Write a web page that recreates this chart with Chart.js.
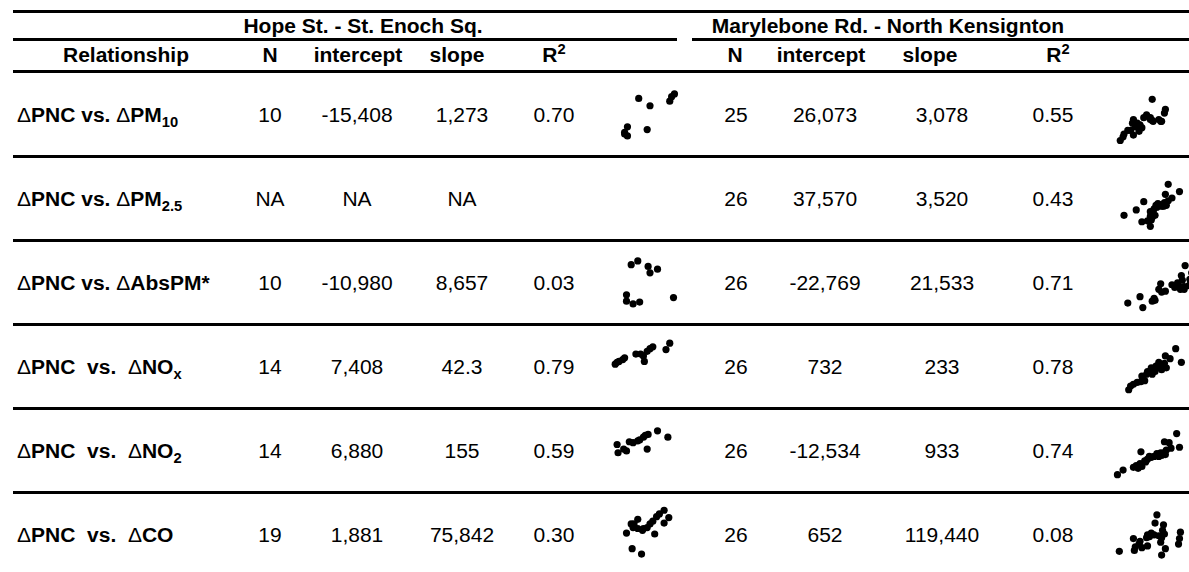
<!DOCTYPE html>
<html>
<head>
<meta charset="utf-8">
<script src="https://cdn.jsdelivr.net/npm/chart.js"></script>
<style>
  html, body { margin: 0; padding: 0; background: #fff; overflow: hidden; }
  body { width: 1189px; height: 572px; position: relative; font-family: "Liberation Sans", Arial, sans-serif; color: #000; }
  .rule { position: absolute; height: 3px; background: #000; }
  .txt { position: absolute; font-size: 20px; white-space: pre; line-height: 1; transform: translate(-50%, -50%) scaleX(1.05); }
  .lbl { position: absolute; font-size: 20px; font-weight: bold; white-space: pre; line-height: 1; transform: translateY(-50%) scaleX(1.05); transform-origin: left center; }
  .b { font-weight: bold; }
  .d { font-weight: normal; }
  .sub { font-size: 14px; position: relative; top: 5px; line-height: 0; }
  .sup { font-size: 14px; position: relative; top: -8px; line-height: 0; }
  canvas { position: absolute; }
</style>
</head>
<body>
<script>
// table rows
const relationships = [
  ["ΔPNC vs. ΔPM", "10"],
  ["ΔPNC vs. ΔPM", "2.5"],
  ["ΔPNC vs. ΔAbsPM*", ""],
  ["ΔPNC  vs.  ΔNO", "x"],
  ["ΔPNC  vs.  ΔNO", "2"],
  ["ΔPNC  vs.  ΔCO", ""]
];
const siteNames = ["Hope St. - St. Enoch Sq.", "Marylebone Rd. - North Kensignton"];
const columns = ["N", "intercept", "slope", "R2"];

const hopeN = ["10", "NA", "10", "14", "14", "19"];
const hopeIntercept = ["-15,408", "NA", "-10,980", "7,408", "6,880", "1,881"];
const hopeSlope = ["1,273", "NA", "8,657", "42.3", "155", "75,842"];
const hopeR2 = ["0.70", "", "0.03", "0.79", "0.59", "0.30"];

const maryN = ["25", "26", "26", "26", "26", "26"];
const maryIntercept = ["26,073", "37,570", "-22,769", "732", "-12,534", "652"];
const marySlope = ["3,078", "3,520", "21,533", "233", "933", "119,440"];
const maryR2 = ["0.55", "0.43", "0.71", "0.78", "0.74", "0.08"];

// mini scatter plots, [x, y] in plot units
const hopePM10 = [[4.8,5.9],[6.0,5.1],[8.1,5.6],[8.3,6.1],[8.6,6.4],[3.6,2.8],[3.3,2.0],[3.6,1.8],[5.7,2.5],[3.3,2.2]];
const hopeAbsPM = [[4.0,6.1],[4.7,6.5],[5.8,5.9],[6.0,5.2],[6.8,5.6],[3.5,2.8],[3.5,2.1],[4.2,1.8],[4.9,2.0],[8.5,2.5]];
const hopeNOx = [[8.1,6.7],[7.7,6.0],[6.3,6.3],[6.0,6.1],[5.7,5.8],[5.0,5.5],[4.5,5.5],[5.3,5.3],[5.4,4.7],[3.3,5.1],[3.1,4.9],[2.7,4.7],[2.3,4.4],[2.5,4.6]];
const hopeNO2 = [[6.8,6.3],[7.9,5.6],[5.8,5.9],[5.3,5.6],[4.9,5.3],[4.2,5.0],[3.8,5.1],[3.5,4.1],[3.2,4.3],[2.5,4.8],[2.6,3.9],[5.7,4.3],[4.7,5.2],[5.5,5.8]];
const hopeCO = [[7.5,6.8],[8.0,6.0],[7.5,5.4],[7.0,6.4],[6.7,6.1],[6.3,5.6],[6.0,5.3],[6.5,4.2],[5.7,4.9],[5.2,4.6],[4.7,4.8],[4.2,4.9],[3.5,4.3],[4.0,5.3],[4.7,5.8],[4.3,5.3],[4.1,2.6],[5.1,2.0],[5.3,4.8]];

const maryPM10 = [[7.3,5.8],[8.7,4.7],[8.6,4.3],[6.7,4.1],[6.4,3.8],[7.1,3.6],[7.4,3.4],[8.2,3.4],[8.0,3.6],[5.3,3.6],[5.2,3.2],[5.7,3.2],[6.0,3.0],[5.5,2.8],[5.0,2.4],[5.9,2.3],[5.3,1.9],[4.3,2.0],[4.2,1.7],[3.9,1.3],[7.1,3.8],[7.3,3.5],[8.3,3.4],[6.2,2.7],[4.7,2.4]];
const maryPM25 = [[9.0,5.7],[10.2,4.9],[8.7,4.6],[9.4,4.2],[6.4,3.8],[8.0,3.5],[8.3,3.3],[7.8,3.2],[8.5,3.3],[8.8,3.4],[9.0,3.9],[5.6,2.9],[7.1,2.7],[7.5,3.0],[7.9,3.6],[4.3,2.3],[7.1,2.2],[7.3,2.1],[7.6,2.3],[6.8,1.7],[6.2,1.6],[7.1,1.1],[7.2,1.8],[8.2,3.4],[8.6,3.7],[7.7,3.4]];
const maryAbsPM = [[10.8,6.0],[10.4,4.9],[10.5,4.4],[10.0,4.1],[10.7,3.7],[10.7,3.4],[9.4,3.9],[8.2,4.0],[8.0,3.4],[8.3,3.1],[8.7,3.2],[7.5,2.4],[7.3,2.1],[7.6,2.2],[6.0,2.6],[6.3,1.4],[4.7,1.9],[10.2,3.7],[9.7,3.6],[10.3,3.4],[11.3,4.5],[11.5,5.2],[11.2,3.8],[11.8,6.0],[11.4,4.2],[11.6,3.5]];
const maryNOx = [[9.8,6.1],[10.4,4.6],[8.7,5.3],[9.2,5.0],[8.0,4.6],[8.6,4.5],[8.8,4.0],[8.3,4.2],[7.7,4.2],[7.2,4.0],[7.4,3.7],[7.0,3.5],[6.7,3.3],[6.8,3.6],[7.3,3.3],[6.3,2.9],[6.5,2.6],[6.1,2.5],[5.7,2.4],[5.3,2.2],[5.0,2.0],[4.8,1.6],[6.2,3.1],[7.8,4.0],[8.3,3.8],[7.6,3.6]];
const maryNO2 = [[9.9,6.0],[10.2,4.5],[8.6,5.1],[9.1,5.0],[6.1,4.0],[8.8,4.2],[8.5,3.9],[8.7,3.7],[8.2,3.9],[7.8,3.8],[7.5,3.5],[7.2,3.4],[6.8,3.2],[6.5,3.0],[7.0,3.5],[6.0,2.7],[5.8,2.2],[5.6,2.5],[5.3,2.3],[6.2,2.4],[4.2,2.0],[3.6,1.5],[9.3,4.4],[8.3,3.6],[8.0,3.5],[6.6,2.9]];
const maryCO = [[7.8,6.3],[7.6,5.4],[8.5,5.2],[8.4,4.6],[8.6,4.2],[8.3,3.8],[8.2,3.3],[7.2,4.3],[6.8,4.1],[6.7,3.8],[7.0,3.9],[7.5,4.1],[5.3,3.7],[6.0,3.4],[5.9,3.1],[5.5,2.8],[6.8,2.9],[6.2,2.7],[5.4,2.4],[3.8,2.3],[8.7,2.6],[8.3,1.9],[10.3,4.4],[10.2,3.7],[10.1,3.1],[8.0,4.0]];

const hopePlots = [hopePM10, null, hopeAbsPM, hopeNOx, hopeNO2, hopeCO];
const maryPlots = [maryPM10, maryPM25, maryAbsPM, maryNOx, maryNO2, maryCO];

function addRule(left, top, width) {
  const d = document.createElement("div");
  d.className = "rule";
  d.style.left = left + "px";
  d.style.top = top + "px";
  d.style.width = width + "px";
  document.body.appendChild(d);
}

function addText(html, x, y, cls) {
  const d = document.createElement("div");
  d.className = cls || "txt";
  d.innerHTML = html;
  d.style.left = x + "px";
  d.style.top = y + "px";
  document.body.appendChild(d);
}

function colHeader(name) {
  if (name === "R2") return 'R<span class="sup">2</span>';
  return name;
}

function labelHtml(item) {
  const parts = item[0].split("Δ");
  let html = parts[0];
  for (let i = 1; i < parts.length; i++) {
    html += '<span class="d">Δ</span>' + parts[i];
  }
  if (item[1]) html += '<span class="sub">' + item[1] + '</span>';
  return html;
}

function miniScatter(points, left, top) {
  const canvas = document.createElement("canvas");
  canvas.width = 120;
  canvas.height = 84;
  canvas.style.left = left + "px";
  canvas.style.top = top + "px";
  document.body.appendChild(canvas);
  return new Chart(canvas, {
    type: "scatter",
    data: {
      datasets: [{
        data: points.map(([x, y]) => ({ x, y })),
        backgroundColor: "#000",
        borderWidth: 0,
        pointRadius: 3.6,
        pointHoverRadius: 3.6
      }]
    },
    options: {
      responsive: false,
      animation: false,
      events: [],
      layout: { padding: 0 },
      plugins: { legend: { display: false }, tooltip: { enabled: false } },
      scales: {
        x: { type: "linear", min: 0, max: 12, display: false },
        y: { type: "linear", min: 0, max: 8.4, display: false }
      }
    }
  });
}

function mainEvent() {
  // rules
  addRule(13, 10, 1176);
  addRule(13, 38, 664);
  addRule(692, 38, 497);
  addRule(13, 70, 1176);
  [155, 239, 323, 407, 491].forEach((t) => addRule(13, t, 1176));

  // site titles
  addText('<span class="b">' + siteNames[0] + '</span>', 363, 26);
  addText('<span class="b">' + siteNames[1] + '</span>', 888, 26);

  // column headers
  addText('<span class="b">Relationship</span>', 126, 55);
  const hopeHead = [270, 358, 457, 554];
  const maryHead = [735, 821, 930, 1058];
  columns.forEach((c, i) => {
    addText('<span class="b">' + colHeader(c) + '</span>', hopeHead[i], 55);
    addText('<span class="b">' + colHeader(c) + '</span>', maryHead[i], 55);
  });

  const hopeCols = [hopeN, hopeIntercept, hopeSlope, hopeR2];
  const maryCols = [maryN, maryIntercept, marySlope, maryR2];
  const hopeX = [270, 357, 462, 554];
  const maryX = [736, 825, 942, 1053];

  relationships.forEach((rel, r) => {
    const cy = 115 + 84 * r;
    addText(labelHtml(rel), 17, cy, "lbl");
    hopeCols.forEach((col, i) => { if (col[r]) addText(col[r], hopeX[i], cy); });
    maryCols.forEach((col, i) => { if (col[r]) addText(col[r], maryX[i], cy); });
    const top = 72 + 84 * r;
    if (hopePlots[r]) miniScatter(hopePlots[r], 590, top);
    if (maryPlots[r]) miniScatter(maryPlots[r], 1080, top);
  });
}

document.addEventListener("DOMContentLoaded", () => mainEvent());
</script>
</body>
</html>
